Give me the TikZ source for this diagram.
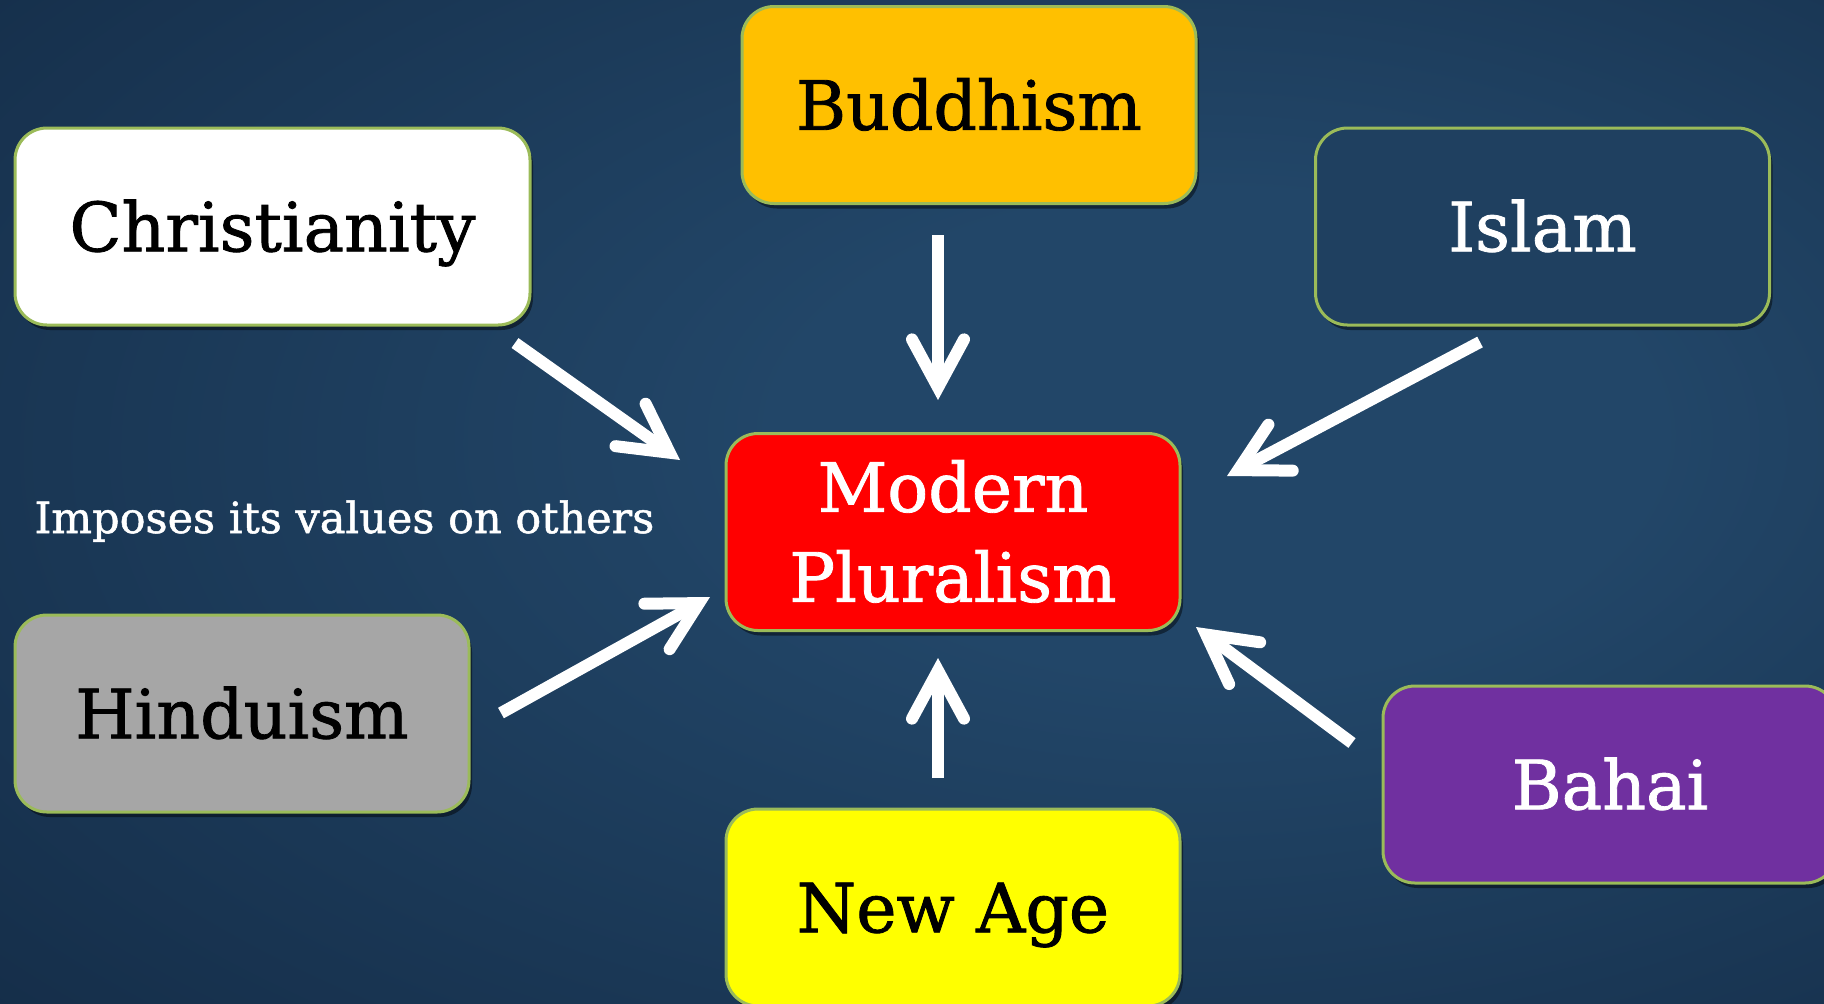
\documentclass[tikz,border=0pt]{standalone}
\usepackage{fontspec}
\setmainfont{DejaVu Serif}[RawFeature={embolden=1.2}]
\usetikzlibrary{arrows.meta,shadows}
\definecolor{bgin}{RGB}{34,70,104}
\definecolor{bgmid}{RGB}{22,48,76}
\definecolor{bgout}{RGB}{7,18,32}
\definecolor{boxgreen}{RGB}{155,187,89}
\definecolor{buddha}{RGB}{255,192,0}
\definecolor{islamblue}{RGB}{31,64,96}
\definecolor{hindugray}{RGB}{166,166,166}
\definecolor{bahaipurple}{RGB}{112,48,160}
\definecolor{newageyellow}{RGB}{255,255,0}
\definecolor{pluralred}{RGB}{255,0,0}
\pgfdeclareradialshading{bgvignette}{\pgfpoint{10bp}{4bp}}{color(0bp)=(bgin); color(12bp)=(bgin); color(38bp)=(bgmid); color(75bp)=(bgout)}
\tikzset{
  relbox/.style={rounded corners=16pt, draw=boxgreen, line width=1.5pt,
    minimum width=227pt, minimum height=98.5pt, inner sep=0pt,
    font=\fontsize{34}{45}\selectfont, text height=24.8pt, text depth=0pt,
    drop shadow={shadow xshift=1.5pt, shadow yshift=-2.5pt, opacity=0.45, fill=black}},
  arr/.style={draw=white, line width=6pt,
    -{Straight Barb[length=24pt,width=26pt,line width=6pt,line cap=round,line join=miter]}},
  note/.style={text=white, font=\fontsize{21.5}{26}\selectfont, inner sep=0pt}
}
\begin{document}
\begin{tikzpicture}[x=0.5pt,y=-0.5pt]
\useasboundingbox (0,0) rectangle (1824,1003);
\clip (0,0) rectangle (1824,1003);
\shade[shading=bgvignette] (0,0) rectangle (1824,1003);

\node[relbox, fill=white, text=black, minimum width=257.5pt] (chr) at (272.5,226.5) {Christianity};
\node[relbox, fill=buddha, text=black] (bud) at (969,105) {Buddhism};
\node[relbox, fill=islamblue, text=white] (isl) at (1542.5,226.5) {Islam};
\node[relbox, fill=pluralred, text=white, align=center, text height=69.8pt, text depth=0pt] (mp) at (953,532) {Modern\\Pluralism};
\node[relbox, fill=hindugray, text=black] (hin) at (242,713.5) {Hinduism};
\node[relbox, fill=bahaipurple, text=white] (bah) at (1610,784.5) {Bahai};
\node[relbox, fill=newageyellow, text=black] (new) at (953,907.5) {New Age};

\node[note, anchor=base west] (imp) at (34,533) {Imposes its values on others};

\coordinate (a1s) at (515,343);  \coordinate (a1e) at (680,460);
\coordinate (a2s) at (938,235);  \coordinate (a2e) at (938,400);
\coordinate (a3s) at (1480,342); \coordinate (a3e) at (1227,476);
\coordinate (a4s) at (501,713);  \coordinate (a4e) at (710,597);
\coordinate (a5s) at (938,778);  \coordinate (a5e) at (938,658);
\coordinate (a6s) at (1352,743); \coordinate (a6e) at (1196,627);

\draw[arr] (a1s) -- (a1e);
\draw[arr] (a2s) -- (a2e);
\draw[arr] (a3s) -- (a3e);
\draw[arr] (a4s) -- (a4e);
\draw[arr] (a5s) -- (a5e);
\draw[arr] (a6s) -- (a6e);
\end{tikzpicture}
\end{document}
